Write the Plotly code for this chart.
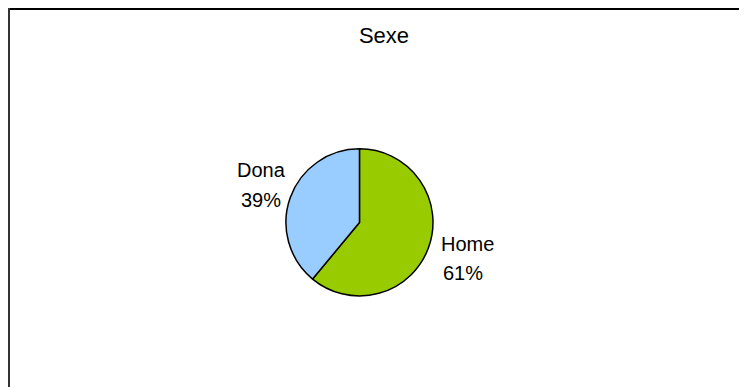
import plotly.graph_objects as go

# ===== 数据 =====
labels = ["Home", "Dona"]
values = [61, 39]
colors = ["#99CC00", "#99CCFF"]

W, H = 747, 387
FONT = "Liberation Sans, Arial"

# 标签位置（像素，相对图左上角）：名称行、百分比行
LABEL_POS = {
    "Home": [(459, 235.5), (455, 264.5)],
    "Dona": [(253, 162), (252.5, 192)],
}

fig = go.Figure()
fig.add_trace(go.Pie(
    labels=labels,
    values=values,
    sort=False,
    direction="clockwise",
    rotation=0,
    marker=dict(colors=colors, line=dict(color="black", width=1.5)),
    textinfo="none",
    domain=dict(x=[0.289, 0.652], y=[0.256, 0.636]),
    showlegend=False,
    hoverinfo="label+percent",
))

# 外侧标签：名称 + 百分比
total = sum(values)
annotations = []
for lab, val in zip(labels, values):
    (x1, y1), (x2, y2) = LABEL_POS[lab]
    for txt, (px_, py_) in ((lab, (x1, y1)), (f"{val / total * 100:.0f}%", (x2, y2))):
        annotations.append(dict(
            text=txt, x=px_ / W, y=1 - py_ / H, xref="paper", yref="paper",
            xanchor="center", yanchor="middle", showarrow=False,
            font=dict(family=FONT, size=20, color="black"),
        ))

fig.update_layout(
    width=W, height=H,
    margin=dict(l=0, r=0, t=0, b=0),
    paper_bgcolor="white",
    title=dict(text="Sexe", x=376 / W, xanchor="center", y=1 - 27 / H, yanchor="middle",
               font=dict(family=FONT, size=22, color="black")),
    annotations=annotations,
    shapes=[
        dict(type="line", xref="paper", yref="paper", x0=0, x1=1, y0=1 - 1 / H, y1=1 - 1 / H,
             line=dict(color="black", width=2)),
        dict(type="line", xref="paper", yref="paper", x0=1 / W, x1=1 / W, y0=0, y1=1,
             line=dict(color="#333333", width=2)),
    ],
)

fig.write_html("out.html")
